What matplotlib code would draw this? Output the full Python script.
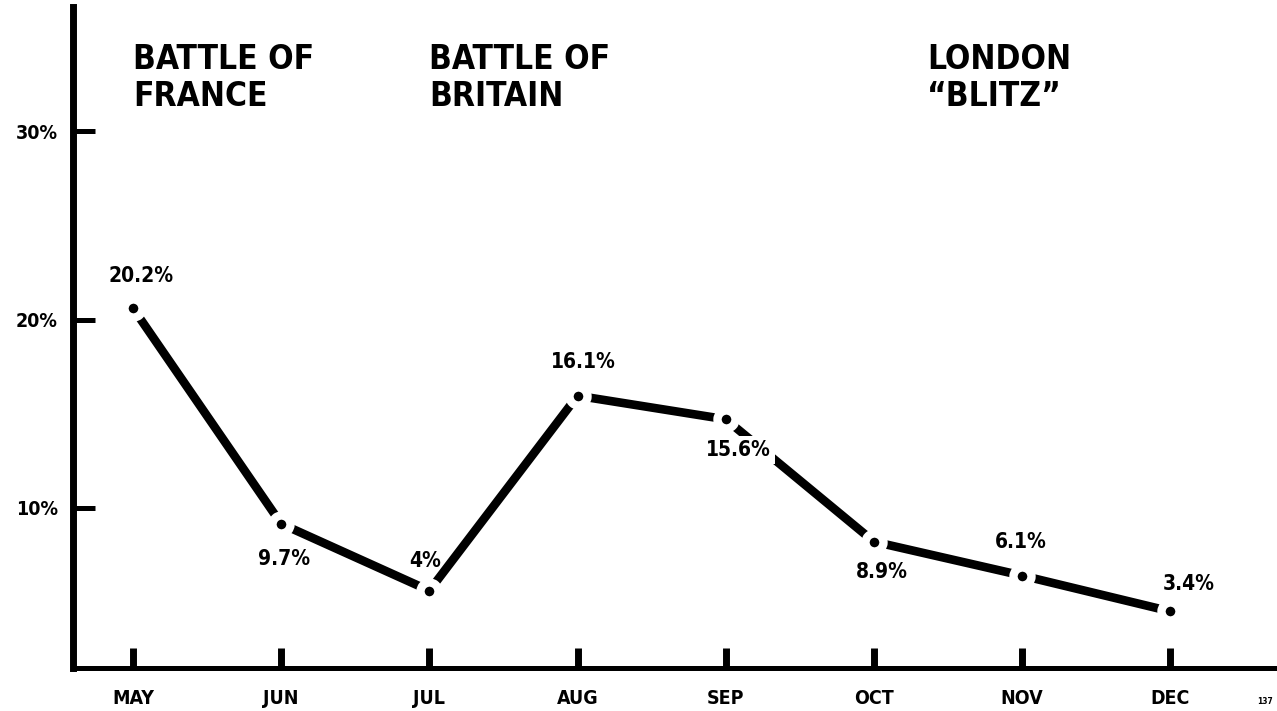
import matplotlib
matplotlib.use('Agg')
import matplotlib.pyplot as plt

# monthly values as plotted and the printed labels
months = ['MAY', 'JUN', 'JUL', 'AUG', 'SEP', 'OCT', 'NOV', 'DEC']
values = [20.6, 9.15, 5.6, 15.95, 14.7, 8.2, 6.4, 4.5]
labels = ['20.2%', '9.7%', '4%', '16.1%', '15.6%', '8.9%', '6.1%', '3.4%']
yticks = [10, 20, 30]
ytick_labels = ['10%', '20%', '30%']
phases = ['BATTLE OF\nFRANCE', 'BATTLE OF\nBRITAIN', 'LONDON\n\u201cBLITZ\u201d']
phase_x = [0, 2, 5.36]

plt.rcParams['font.family'] = ['Liberation Sans Narrow', 'DejaVu Sans']
plt.rcParams['font.stretch'] = 'condensed'
plt.rcParams['font.weight'] = 'bold'

fig = plt.figure(figsize=(12.77, 7.11), dpi=100)
W, H = 1277, 711
# axes box in pixels: left spine at x=73, bottom spine at y=668, top at y=7
ax = fig.add_axes([73 / W, (H - 668) / H, (W - 73) / W, (668 - 7) / H])

xs = list(range(len(months)))
ax.plot(xs, values, color='black', lw=6.2, solid_capstyle='butt', zorder=2)
# black dots with a white ring so the line stops short of each point
ax.plot(xs, values, 'o', ms=13, mfc='black', mec='white', mew=6, zorder=3)

# label offsets in points (dx, dy) from each dot
offs = [(6, 23), (2, -25), (-3, 21), (4, 24), (9, -22), (6, -22), (-1, 24), (13, 20)]
for i, (x, v, lab, (dx, dy)) in enumerate(zip(xs, values, labels, offs)):
    box = None
    if months[i] == 'SEP':  # this label sits on the line in the original
        box = dict(boxstyle='square,pad=0.2', fc='white', ec='none')
    ax.annotate(lab, (x, v), xytext=(dx, dy), textcoords='offset points',
                ha='center', va='center', fontsize=15, fontweight='bold',
                bbox=box, zorder=4)

for px, txt in zip(phase_x, phases):
    ax.text(px, 34.7, txt, ha='left', va='top', fontsize=24, fontweight='bold',
            linespacing=1.15)

ax.set_xlim(-0.405, 7.72)
ax.set_ylim(1.49, 36.6)

ax.set_xticks(xs)
ax.set_xticklabels(months, fontsize=14, fontweight='bold')
ax.set_yticks(yticks)
ax.set_yticklabels(ytick_labels, fontsize=14, fontweight='bold')
ax.tick_params(axis='x', direction='in', length=14.5, width=5, pad=15)
ax.tick_params(axis='y', direction='in', length=16, width=3.6, pad=11)

for s in ['top', 'right']:
    ax.spines[s].set_visible(False)
ax.spines['left'].set_linewidth(5)
ax.spines['bottom'].set_linewidth(3.6)
for s in ['left', 'bottom']:
    ax.spines[s].set_capstyle('projecting')

fig.text(1265 / W, 1 - 701 / H, '137', fontsize=6, fontweight='bold',
         ha='center', va='center')

fig.savefig('out.png', dpi=100)
